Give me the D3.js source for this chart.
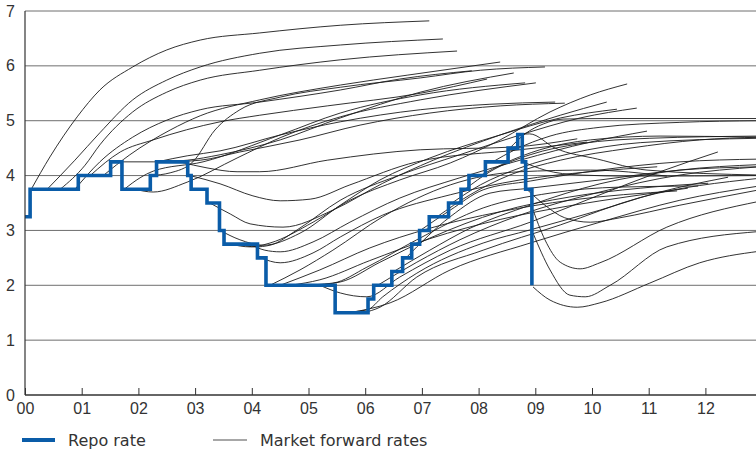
<!DOCTYPE html>
<html lang="en">
<head>
<meta charset="UTF-8">
<title>Repo rate and market forward rates</title>
<style>
  body { margin: 0; background: #fff; }
  svg { display: block; font-family: 'DejaVu Sans', sans-serif; }
  .grid line { stroke: #6e6e6e; stroke-width: 1; }
  .fwd { fill: none; stroke: #1b1b1b; stroke-width: 0.9; }
  .repo { fill: none; stroke: #0a5ca8; stroke-width: 3.6; stroke-linejoin: miter; }
  .axis text { font-size: 16px; fill: #333; }
  .axis path, .axis line { stroke: #333; }
  .legend text { font-size: 16px; fill: #333; }
</style>
</head>
<body>
<svg id="chart" width="756" height="455"></svg>
<script src="https://d3js.org/d3.v7.min.js"></script>
<script>
// repo rate decisions (decimal year, percent)
const repoDates = [2000.00, 2000.09, 2000.94, 2001.51, 2001.71, 2002.21, 2002.32, 2002.87, 2002.93,
  2003.21, 2003.43, 2003.51, 2004.10, 2004.25, 2005.47, 2006.05, 2006.15, 2006.47, 2006.66,
  2006.82, 2006.96, 2007.13, 2007.47, 2007.69, 2007.83, 2008.12, 2008.52, 2008.69, 2008.77,
  2008.83, 2008.94];
const repoRates = [3.25, 3.75, 4.00, 4.25, 3.75, 4.00, 4.25, 4.00, 3.75,
  3.50, 3.00, 2.75, 2.50, 2.00, 1.50, 1.75, 2.00, 2.25, 2.50,
  2.75, 3.00, 3.25, 3.50, 3.75, 4.00, 4.25, 4.50, 4.75, 4.25,
  3.75, 2.00];

// market forward rate curves: [decimal year, percent]
const forwardCurves = [
  [[2000.11,3.75],[2000.44,4.34],[2000.92,5.07],[2001.32,5.56],[2001.9,5.98],[2002.5,6.29],[2003.09,6.47],[2004.14,6.6],[2005.56,6.74],[2007.13,6.82]],
  [[2000.39,3.75],[2000.88,4.28],[2001.32,4.78],[2001.9,5.38],[2002.5,5.74],[2003.09,5.98],[2004.14,6.23],[2005.56,6.38],[2007.37,6.49]],
  [[2000.62,3.75],[2001.06,4.19],[2001.32,4.56],[2001.9,5.16],[2002.5,5.52],[2003.09,5.74],[2004.14,5.92],[2005.56,6.11],[2007.62,6.27]],
  [[2000.88,3.75],[2001.32,4.25],[2001.9,4.7],[2002.5,5.01],[2003.09,5.2],[2004.14,5.34],[2005.56,5.56],[2006.61,5.76],[2007.88,5.91]],
  [[2001.15,4.0],[2001.68,4.43],[2002.26,4.65],[2003.44,4.98],[2004.14,5.1],[2005.33,5.27],[2006.97,5.5],[2008.15,5.76]],
  [[2001.38,4.0],[2001.85,4.38],[2002.56,4.83],[2003.09,5.09],[2004.14,5.38],[2005.56,5.65],[2006.74,5.83],[2008.38,6.07]],
  [[2001.55,4.25],[2002.26,4.25],[2002.86,4.28],[2003.44,4.38],[2004.5,4.65],[2005.56,5.05],[2006.97,5.52],[2008.62,5.87]],
  [[2001.75,3.75],[2002.03,3.96],[2002.26,4.08],[2003.14,4.25],[2004.5,4.74],[2005.56,5.14],[2006.97,5.47],[2008.82,5.69]],
  [[2001.94,3.75],[2002.26,3.7],[2002.86,3.88],[2003.74,4.32],[2004.5,4.69],[2005.56,5.07],[2006.97,5.38],[2009.01,5.69]],
  [[2002.21,4.0],[2002.56,4.05],[2002.96,4.25],[2003.35,4.83],[2003.79,5.2],[2004.5,5.43],[2005.56,5.61],[2006.97,5.78],[2008.03,5.92],[2009.17,5.98]],
  [[2002.33,4.25],[2002.86,4.36],[2003.44,4.45],[2004.5,4.74],[2005.56,4.98],[2006.97,5.2],[2008.2,5.3],[2009.35,5.34]],
  [[2002.5,4.25],[2003.09,4.28],[2003.79,4.43],[2004.85,4.65],[2005.91,4.92],[2007.14,5.14],[2008.38,5.27],[2009.52,5.32]],
  [[2002.73,4.25],[2003.21,4.14],[2003.74,4.07],[2004.14,4.07],[2005.33,4.28],[2006.97,4.47],[2008.61,4.52],[2009.74,4.67]],
  [[2002.91,4.0],[2003.44,3.85],[2004.02,3.63],[2004.5,3.54],[2005.03,3.57],[2005.73,3.83],[2006.91,4.25],[2008.73,4.47],[2009.91,4.61]],
  [[2003.26,3.5],[2003.62,3.3],[2003.97,3.12],[2004.55,3.06],[2005.43,3.37],[2006.31,3.86],[2007.2,4.28],[2008.38,4.74],[2009.44,5.1],[2010.26,5.34]],
  [[2003.44,3.0],[2003.79,2.83],[2004.2,2.73],[2004.85,2.95],[2005.56,3.46],[2006.26,3.92],[2007.14,4.32],[2008.38,4.74],[2009.44,5.05],[2010.44,5.21]],
  [[2003.62,2.75],[2003.97,2.7],[2004.32,2.77],[2005.08,3.15],[2005.73,3.55],[2006.61,3.92],[2007.5,4.23],[2008.38,4.65],[2009.26,5.16],[2009.97,5.47],[2010.62,5.67]],
  [[2003.79,2.75],[2004.06,2.7],[2004.32,2.73],[2004.8,3.01],[2005.56,3.55],[2006.61,4.01],[2007.67,4.38],[2008.73,4.74],[2009.79,5.05],[2010.79,5.23]],
  [[2003.97,2.75],[2004.23,2.64],[2004.5,2.61],[2005.08,2.79],[2005.73,3.15],[2006.61,3.59],[2007.67,3.96],[2008.73,4.28],[2009.97,4.61],[2010.97,4.81]],
  [[2004.16,2.5],[2004.5,2.41],[2005.08,2.59],[2005.56,2.88],[2006.31,3.28],[2007.5,3.65],[2008.73,3.92],[2009.97,4.07],[2011.15,4.16]],
  [[2004.32,2.0],[2004.85,2.28],[2005.43,2.64],[2006.31,3.25],[2007.5,3.83],[2008.73,4.07],[2009.97,4.1],[2011.32,3.99]],
  [[2004.5,2.0],[2005.2,2.28],[2006.08,2.68],[2007.14,3.04],[2008.38,3.34],[2009.61,3.55],[2011.5,3.72]],
  [[2004.68,2.0],[2005.2,2.1],[2006.08,2.45],[2007.14,2.85],[2008.38,3.2],[2009.61,3.45],[2010.67,3.62],[2011.69,3.77]],
  [[2004.85,2.0],[2005.43,2.04],[2006.03,2.33],[2006.91,2.83],[2008.08,3.41],[2009.26,3.68],[2010.49,3.79],[2011.87,3.81]],
  [[2005.03,2.0],[2005.56,2.06],[2006.26,2.42],[2007.14,2.86],[2008.38,3.34],[2009.61,3.61],[2010.85,3.77],[2012.05,3.86]],
  [[2005.2,2.0],[2005.56,1.86],[2006.03,1.79],[2006.61,2.15],[2007.5,2.64],[2008.91,3.15],[2010.14,3.65],[2011.2,4.07],[2012.22,4.43]],
  [[2005.5,1.5],[2006.03,1.55],[2006.31,1.79],[2006.91,2.22],[2008.08,2.77],[2008.91,3.01],[2010.14,3.37],[2011.2,3.7],[2012.4,3.97]],
  [[2005.73,1.5],[2006.44,1.68],[2007.5,2.28],[2008.91,2.77],[2010.14,3.15],[2011.55,3.55],[2012.95,3.81]],
  [[2005.97,1.5],[2006.26,1.6],[2006.91,2.15],[2008.08,2.64],[2009.44,3.1],[2010.85,3.6],[2012.95,3.95]],
  [[2006.22,2.0],[2006.91,2.42],[2007.67,2.83],[2008.73,3.28],[2010.14,3.7],[2011.55,4.01],[2012.95,4.16]],
  [[2006.5,2.25],[2007.14,2.64],[2007.85,3.04],[2008.91,3.46],[2010.14,3.85],[2011.55,4.1],[2012.95,4.2]],
  [[2006.72,2.5],[2007.5,3.25],[2008.2,3.68],[2008.91,3.77],[2010.14,3.92],[2011.55,4.1],[2012.95,4.16]],
  [[2006.97,3.0],[2007.5,3.37],[2008.08,3.74],[2008.91,3.9],[2010.14,4.1],[2011.55,4.25],[2012.95,4.3]],
  [[2007.27,3.25],[2007.85,3.65],[2008.55,4.01],[2009.44,4.28],[2010.67,4.5],[2011.9,4.65],[2012.95,4.7]],
  [[2007.53,3.5],[2008.03,3.83],[2008.73,4.14],[2009.61,4.4],[2010.85,4.6],[2012.95,4.68]],
  [[2007.76,3.75],[2008.2,4.07],[2008.91,4.38],[2009.79,4.58],[2011.02,4.68],[2012.95,4.72]],
  [[2008.03,4.0],[2008.47,4.23],[2009.08,4.47],[2009.97,4.65],[2011.2,4.72],[2012.95,4.7]],
  [[2008.25,4.25],[2008.64,4.47],[2009.26,4.72],[2010.14,4.88],[2011.55,4.97],[2012.95,5.0]],
  [[2008.55,4.5],[2008.82,4.76],[2009.14,4.94],[2009.49,5.03],[2010.37,5.04],[2012.95,5.04]],
  [[2008.72,4.75],[2008.9,4.76],[2009.35,4.5],[2010.1,4.3],[2010.97,4.1],[2012.95,4.01]],
  [[2008.78,4.25],[2009.17,4.1],[2009.79,4.01],[2010.67,3.99],[2012.95,4.0]],
  [[2008.85,3.75],[2009.17,3.46],[2009.52,3.23],[2009.97,3.15],[2010.49,3.23],[2011.55,3.46],[2012.95,3.74]],
  [[2008.94,3.43],[2009.17,2.83],[2009.44,2.42],[2009.79,2.3],[2010.14,2.41],[2011.32,3.06],[2012.95,3.53]],
  [[2008.96,2.95],[2009.26,2.28],[2009.61,1.82],[2009.88,1.79],[2010.32,2.0],[2011.32,2.7],[2012.95,2.98]],
  [[2008.96,1.97],[2009.26,1.73],[2009.74,1.6],[2010.14,1.68],[2011.02,2.04],[2011.9,2.41],[2012.95,2.62]]
];

const xTicks = d3.range(2000, 2013);
const yTicks = d3.range(0, 8);

const width = 756, height = 455;
const marginLeft = 25, plotTop = 11, plotBottom = 395;

const svg = d3.select('#chart');

const x = d3.scaleLinear().domain([2000, 2013]).range([marginLeft, marginLeft + 13 * 56.7]);
const y = d3.scaleLinear().domain([0, 7]).range([plotBottom, plotTop]);

// gridlines
svg.append('g').attr('class', 'grid')
  .selectAll('line')
  .data(yTicks.filter(d => d > 0))
  .enter().append('line')
  .attr('x1', marginLeft).attr('x2', width)
  .attr('y1', d => y(d)).attr('y2', d => y(d));

svg.append('defs').append('clipPath').attr('id', 'plot')
  .append('rect').attr('x', marginLeft).attr('y', plotTop)
  .attr('width', width - marginLeft).attr('height', plotBottom - plotTop);

const fwdLine = d3.line()
  .x(d => x(d[0]))
  .y(d => y(d[1]))
  .curve(d3.curveMonotoneX);

svg.append('g').attr('clip-path', 'url(#plot)')
  .selectAll('path')
  .data(forwardCurves)
  .enter().append('path')
  .attr('class', 'fwd')
  .attr('d', fwdLine);

const repo = repoDates.map((d, i) => [d, repoRates[i]]);
svg.append('path')
  .datum(repo)
  .attr('class', 'repo')
  .attr('d', d3.line().x(d => x(d[0])).y(d => y(d[1])).curve(d3.curveStepAfter));

// axes
const xAxis = d3.axisBottom(x)
  .tickValues(xTicks)
  .tickSizeInner(-7)
  .tickSizeOuter(0)
  .tickPadding(8)
  .tickFormat(d => d3.format('02d')(d - 2000));

const gx = svg.append('g').attr('class', 'axis')
  .attr('transform', `translate(0,${plotBottom})`)
  .call(xAxis);
gx.select('.domain').remove();
gx.append('line').attr('x1', marginLeft).attr('x2', width).attr('y1', 0).attr('y2', 0)
  .attr('stroke', '#333').attr('stroke-width', 1.5);

const gy = svg.append('g').attr('class', 'axis')
  .attr('transform', `translate(${marginLeft},0)`)
  .call(d3.axisLeft(y).tickValues(yTicks).tickSize(0).tickPadding(10).tickFormat(d3.format('d')));
gy.select('.domain').remove();
gy.append('line').attr('x1', 0).attr('x2', 0).attr('y1', plotTop).attr('y2', plotBottom)
  .attr('stroke', '#333').attr('stroke-width', 1.2);

// legend
const lg = svg.append('g').attr('class', 'legend');
lg.append('line').attr('x1', 22).attr('x2', 55).attr('y1', 440).attr('y2', 440)
  .attr('stroke', '#0a5ca8').attr('stroke-width', 4);
lg.append('text').attr('x', 68).attr('y', 446).text('Repo rate');
lg.append('line').attr('x1', 213).attr('x2', 247).attr('y1', 440).attr('y2', 440)
  .attr('stroke', '#8a8a8a').attr('stroke-width', 1.5);
lg.append('text').attr('x', 260).attr('y', 446).text('Market forward rates');
</script>
</body>
</html>
